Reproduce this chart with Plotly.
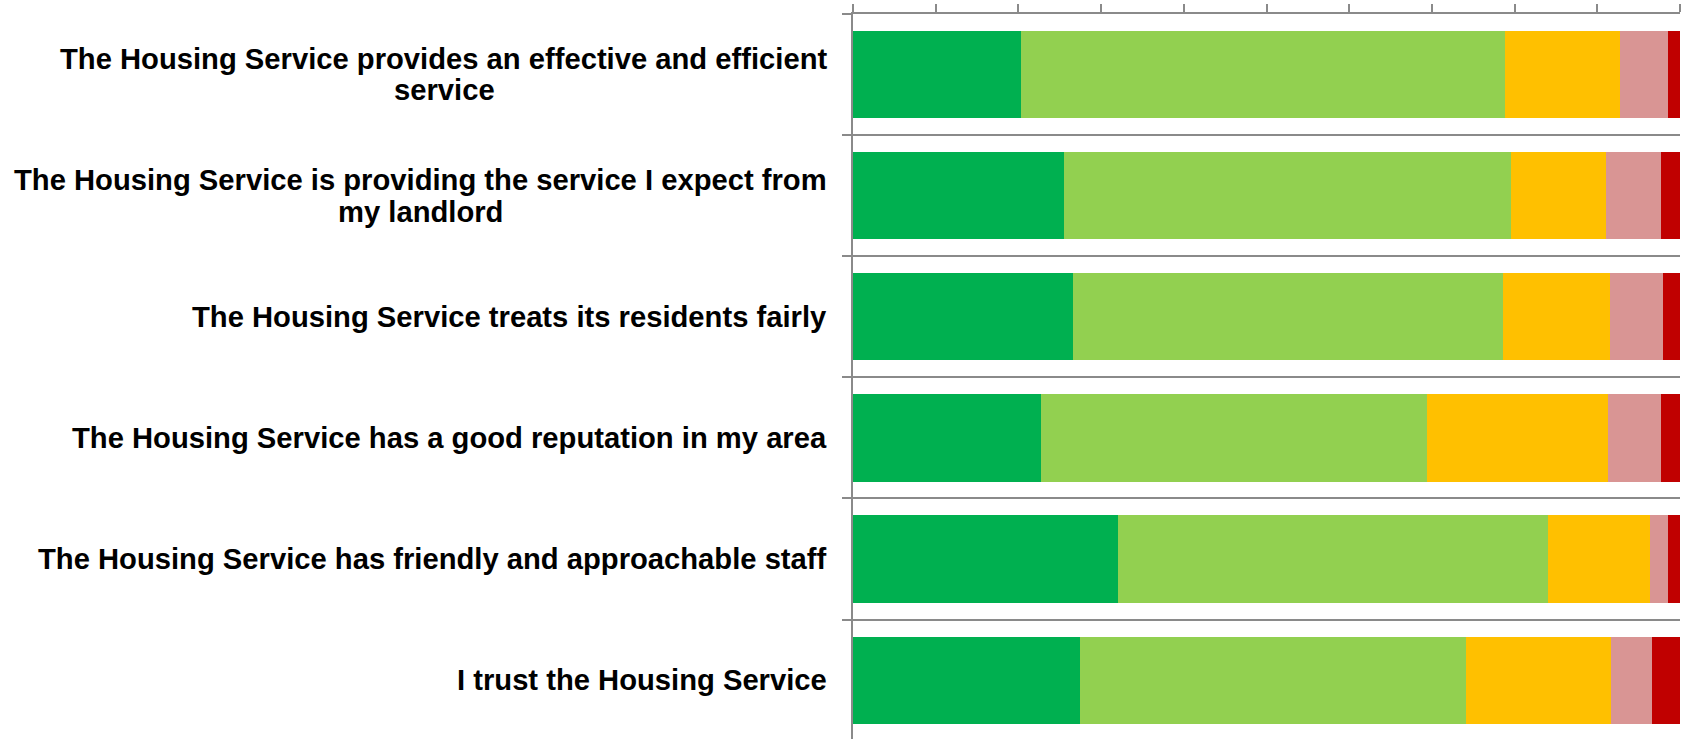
import plotly.graph_objects as go

# Survey statements (top to bottom) and response shares in percent
statements = [
    ["The Housing Service provides an effective and efficient", "service"],
    ["The Housing Service is providing the service I expect from", "my landlord"],
    ["The Housing Service treats its residents fairly"],
    ["The Housing Service has a good reputation in my area"],
    ["The Housing Service has friendly and approachable staff"],
    ["I trust the Housing Service"],
]

strongly_agree = [20.3, 25.5, 26.6, 22.7, 32.0, 27.5]
agree = [58.5, 54.1, 52.0, 46.7, 52.0, 46.6]
neither = [13.9, 11.4, 12.9, 21.9, 12.4, 17.6]
disagree = [5.9, 6.7, 6.5, 6.4, 2.2, 4.9]
strongly_disagree = [1.4, 2.3, 2.0, 2.3, 1.4, 3.4]

series_names = ["Strongly agree", "Agree", "Neither agree nor disagree",
                "Disagree", "Strongly disagree"]
series_values = [strongly_agree, agree, neither, disagree, strongly_disagree]
series_colors = ["#00B050", "#92D050", "#FFC000", "#D99594", "#C00000"]

positions = list(range(len(statements)))
axis_grey = "#8a8a8a"
label_font = dict(family="Liberation Sans, Arial, sans-serif", size=29.2,
                  color="#000000", weight="bold")

fig = go.Figure()
for name, vals, col in zip(series_names, series_values, series_colors):
    fig.add_trace(go.Bar(
        y=positions, x=vals, name=name, orientation="h",
        marker=dict(color=col, line=dict(width=0)),
        hoverinfo="x+name",
    ))

# Statement labels, right-aligned against the axis. Wrapped statements are
# laid out line by line with tighter spacing; the second line is centred
# under the first.
label_gap = -24          # px between label block and the axis
half_line = 15.85        # px from the category centre to each line
second_line_centre = {0: -409, 1: -433}   # px offsets of centred 2nd lines

annotations = []
for i, lines in enumerate(statements):
    common = dict(xref="paper", yref="y", x=0, y=i, yanchor="middle",
                  showarrow=False, font=label_font)
    if len(lines) == 1:
        annotations.append(dict(text=lines[0], xanchor="right",
                                xshift=label_gap, **common))
    else:
        annotations.append(dict(text=lines[0], xanchor="right",
                                xshift=label_gap, yshift=half_line, **common))
        annotations.append(dict(text=lines[1], xanchor="center",
                                xshift=second_line_centre[i],
                                yshift=-half_line, **common))

fig.update_layout(
    width=1683, height=739,
    margin=dict(l=853, r=3, t=14, b=0),
    paper_bgcolor="white", plot_bgcolor="white",
    barmode="stack", bargap=0.28,
    showlegend=False,
    annotations=annotations,
    xaxis=dict(
        side="top", range=[0, 100], tickmode="linear", tick0=0, dtick=10,
        showticklabels=False, ticks="outside", ticklen=8, tickwidth=1.5,
        tickcolor=axis_grey, showline=True, linecolor=axis_grey, linewidth=1.5,
        showgrid=False, zeroline=False, fixedrange=True,
    ),
    yaxis=dict(
        range=[5.486, -0.5], tickmode="linear", tick0=-0.5, dtick=1,
        showticklabels=False, ticks="outside", ticklen=9, tickwidth=1.5,
        tickcolor=axis_grey, showline=True, linecolor=axis_grey, linewidth=1.5,
        showgrid=True, gridcolor=axis_grey, gridwidth=1.5, zeroline=False,
        fixedrange=True,
    ),
)

fig.write_html("out.html")
